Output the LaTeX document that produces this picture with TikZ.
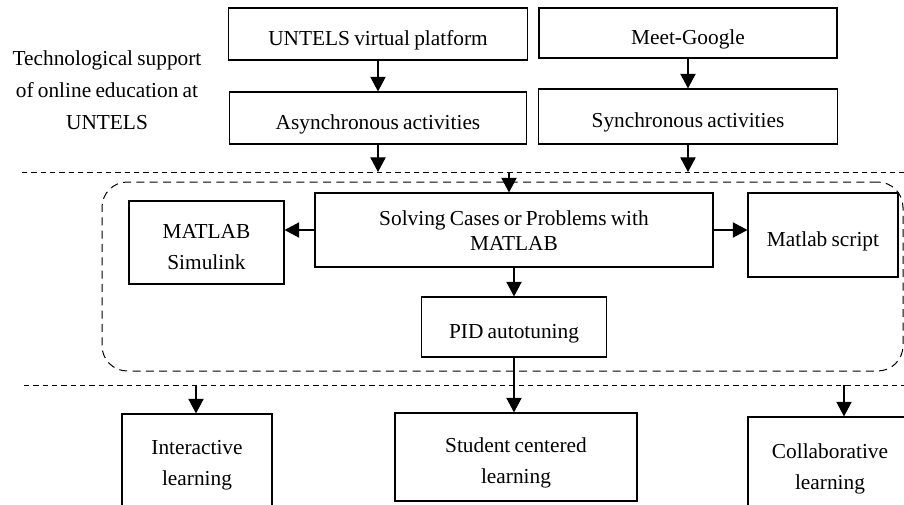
\documentclass[tikz,border=0pt]{standalone}
\usepackage{fontspec}
\setmainfont{Liberation Serif}[WordSpace=0.8]
\usetikzlibrary{arrows.meta}
\newcommand\txlow[1]{\raisebox{-3.75pt}[\height][\depth]{\begin{tabular}{@{}c@{}}#1\end{tabular}}}
\newcommand\txmid[1]{\begin{tabular}{@{}c@{}}#1\end{tabular}}
\newcommand\txtight[1]{\raisebox{-1.9pt}[\height][\depth]{\fontsize{16}{18.75}\selectfont\begin{tabular}{@{}c@{}}#1\end{tabular}}}
\begin{document}
\begin{tikzpicture}[x=0.75pt,y=-0.75pt,
  bx/.style n args={2}{draw, line width=0.85pt, rectangle, inner sep=0pt,
     font=\fontsize{16}{23.5}\selectfont, minimum width=#1*0.75pt, minimum height=#2*0.75pt},
  arr/.style={line width=0.85pt, -{Triangle[width=11.5pt,length=11pt]}},
  sepline/.style={line width=0.75pt, dash pattern=on 4pt off 3pt},
  grp/.style n args={2}{draw, line width=0.75pt, dash pattern=on 6pt off 4pt, rounded corners=19pt,
     inner sep=0pt, minimum width=#1*0.75pt, minimum height=#2*0.75pt},
  lbl/.style={align=center, inner sep=0pt, font=\fontsize{16}{24}\selectfont}]
\useasboundingbox (0,0) rectangle (904,504);

% left label
\node[lbl] (tech) at (107,90) {Technological support\\of online education at\\UNTELS};

% top boxes
\node[bx={299}{52}] (untels) at (378,34) {\txlow{UNTELS virtual platform}};
\node[bx={298}{50}] (meet) at (688,33) {\txlow{Meet-Google}};
\node[bx={297}{52}] (async) at (378,118) {\txlow{Asynchronous activities}};
\node[bx={299}{55}] (sync) at (688,116.5) {\txlow{Synchronous activities}};

% separator lines
\coordinate (tl) at (22,172);
\coordinate (tr) at (906,172);
\coordinate (bl) at (24,385);
\coordinate (br) at (906,385);
\draw[sepline] (tl) -- (tr);
\draw[sepline] (bl) -- (br);

% dashed group
\node[grp={801}{189}] (group) at (502.5,276.5) {};

% middle boxes
\node[bx={398}{74}] (solve) at (514,230) {\txtight{Solving Cases or Problems with\\MATLAB}};
\node[bx={155}{83}] (simulink) at (206.5,242.5) {\txlow{MATLAB\\Simulink}};
\node[bx={150}{84}] (script) at (823,235) {\txlow{Matlab script}};
\node[bx={185}{60}] (pid) at (514,327) {\txlow{PID autotuning}};

% bottom boxes
\node[bx={150}{100}] (inter) at (197,464) {\txmid{Interactive\\learning}};
\node[bx={242}{88}] (student) at (516,457) {\txlow{Student centered\\learning}};
\node[bx={164}{101}] (collab) at (830,467.5) {\txmid{Collaborative\\learning}};

% connectors
\draw[arr] (untels.south) -- (untels.south |- async.north);
\draw[arr] (meet.south) -- (meet.south |- sync.north);
\draw[arr] (async.south) -- (async.south |- tl);
\draw[arr] (sync.south) -- (sync.south |- tl);
\coordinate (sin) at (509,172);
\draw[arr] (sin) -- (sin |- solve.north);
\draw[arr] (solve.west) -- (solve.west -| simulink.east);
\draw[arr] (solve.east) -- (solve.east -| script.west);
\draw[arr] (solve.south) -- (solve.south |- pid.north);
\draw[arr] (pid.south) -- (pid.south |- student.north);
\coordinate (c1) at (196,385);
\coordinate (c3) at (844,385);
\draw[arr] (c1) -- (c1 |- inter.north);
\draw[arr] (c3) -- (c3 |- collab.north);
\end{tikzpicture}
\end{document}
